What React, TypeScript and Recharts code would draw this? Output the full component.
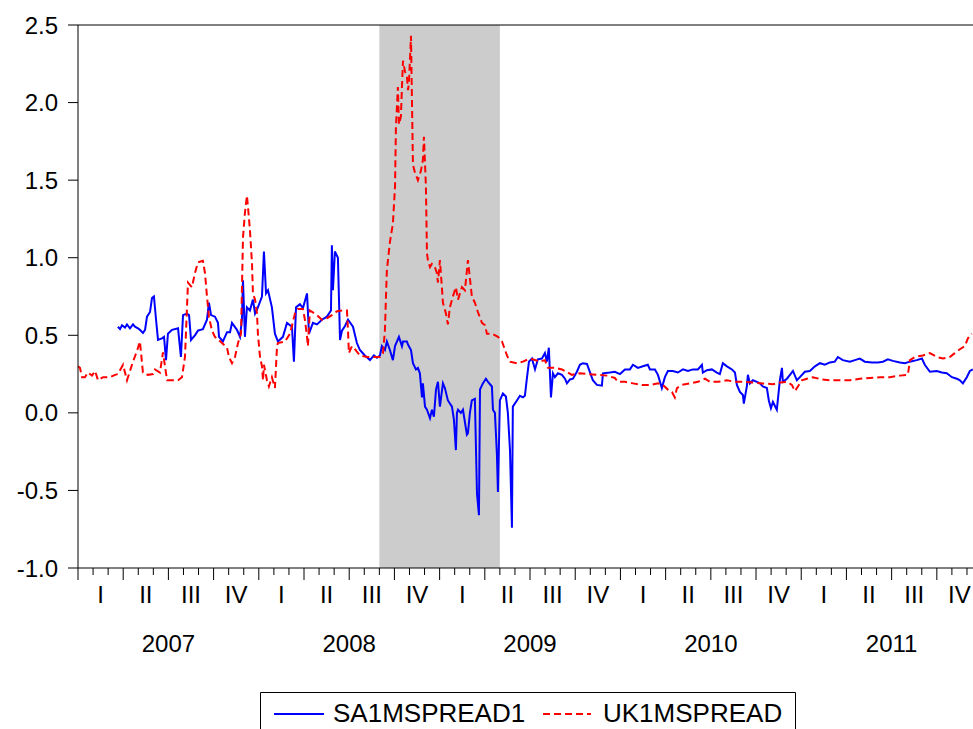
import React from "react";
import {
  LineChart,
  Line,
  XAxis,
  YAxis,
  ReferenceArea,
  ReferenceLine,
} from "recharts";

// x values are months since 1 Jan 2007, y values are spreads in % points

const years = ["2007", "2008", "2009", "2010", "2011"];
const quarters = ["I", "II", "III", "IV"];
const yTicks = [-1, -0.5, 0, 0.5, 1, 1.5, 2, 2.5];
const shaded = [20, 28]; // Sep 2008 .. Apr 2009
const lastMonth = 59.4;

const uk2007: [number, number][] = [
  [0, 0.3], [0.13, 0.29], [0.27, 0.23], [0.46, 0.23], [0.66, 0.26], [0.93, 0.24],
  [1.13, 0.27], [1.33, 0.21], [1.66, 0.23], [1.92, 0.23], [2.12, 0.23], [2.46, 0.245],
  [2.65, 0.25], [2.99, 0.31], [3.25, 0.21], [3.65, 0.33], [3.92, 0.4], [4.11, 0.46],
  [4.31, 0.26], [4.64, 0.245], [4.98, 0.25], [5.11, 0.28], [5.44, 0.26], [5.64, 0.39],
  [5.91, 0.21], [6.24, 0.21], [6.64, 0.21], [6.9, 0.23], [7.1, 0.36], [7.3, 0.84],
  [7.56, 0.81], [7.76, 0.9], [7.96, 0.97], [8.29, 0.98], [8.43, 0.9], [8.56, 0.75],
  [8.69, 0.62], [8.89, 0.53], [9.09, 0.49], [9.56, 0.45], [9.89, 0.42], [10.02, 0.36],
  [10.22, 0.32], [10.42, 0.36], [10.62, 0.45], [10.82, 0.51], [10.95, 1.13], [11.08, 1.29],
  [11.21, 1.4], [11.28, 1.33], [11.41, 1.18], [11.55, 0.96], [11.61, 0.77], [11.75, 0.73],
  [11.88, 0.64], [11.94, 0.51],
];
const uk2008: [number, number][] = [
  [12.08, 0.36], [12.21, 0.3], [12.28, 0.21], [12.34, 0.31], [12.54, 0.21], [12.67, 0.17],
  [12.87, 0.23], [13.07, 0.16], [13.21, 0.43], [13.27, 0.45], [13.74, 0.46], [14.07, 0.51],
  [14.4, 0.64], [14.6, 0.67], [14.93, 0.67], [15.06, 0.6], [15.2, 0.49], [15.26, 0.43],
  [15.39, 0.66], [15.86, 0.63], [16.19, 0.6], [16.52, 0.61], [16.85, 0.63], [17.19, 0.655],
  [17.58, 0.66], [17.85, 0.66], [17.92, 0.53], [17.98, 0.385], [18.18, 0.43], [18.38, 0.41],
  [18.71, 0.37], [19.18, 0.36], [19.58, 0.36], [20.04, 0.36], [20.24, 0.385], [20.37, 0.53],
  [20.44, 0.75], [20.5, 0.92], [20.7, 1.1], [20.9, 1.22], [21.04, 1.46], [21.1, 1.84],
  [21.23, 2.1], [21.3, 1.86], [21.43, 1.91], [21.5, 2.1], [21.57, 2.27], [21.7, 2.2],
  [21.83, 2.17], [21.9, 2.08], [21.96, 2.12], [22.1, 2.43], [22.16, 2.04], [22.23, 1.6],
  [22.36, 1.55], [22.56, 1.5], [22.76, 1.56], [22.89, 1.63], [22.96, 1.78], [23.09, 1.46],
  [23.16, 1.03], [23.22, 0.985], [23.36, 0.94], [23.49, 0.96], [23.69, 0.94], [23.82, 0.9],
  [23.89, 0.84],
];
const uk2009: [number, number][] = [
  [24.02, 0.985], [24.15, 0.81], [24.22, 0.71], [24.42, 0.64], [24.55, 0.57], [24.68, 0.68],
  [24.88, 0.75], [25.08, 0.81], [25.22, 0.73], [25.48, 0.81], [25.68, 0.79], [25.88, 0.985],
  [26.14, 0.75], [26.34, 0.71], [26.54, 0.65], [26.81, 0.58], [27.01, 0.565], [27.14, 0.51],
  [27.47, 0.51], [27.87, 0.49], [28.14, 0.46], [28.47, 0.37], [28.67, 0.33], [29.13, 0.32],
  [29.53, 0.33], [29.86, 0.345], [30.19, 0.345], [30.66, 0.33], [30.99, 0.34], [31.19, 0.29],
  [31.65, 0.29], [32.12, 0.28], [32.78, 0.245], [33.31, 0.255], [33.84, 0.25], [34.44, 0.245],
  [35.1, 0.24], [35.63, 0.225], [35.83, 0.2],
];
const uk2010: [number, number][] = [
  [36.3, 0.2], [36.83, 0.19], [37.43, 0.18], [37.96, 0.18], [38.49, 0.19], [38.82, 0.18],
  [39.15, 0.15], [39.42, 0.135], [39.61, 0.1], [39.75, 0.16], [40.08, 0.18], [40.61, 0.19],
  [41.14, 0.2], [41.61, 0.22], [41.94, 0.2], [42.47, 0.2], [43.07, 0.21], [43.6, 0.2],
  [44.13, 0.2], [44.79, 0.195], [45.45, 0.19], [46.12, 0.185], [46.58, 0.195], [47.05, 0.2],
  [47.38, 0.18], [47.58, 0.14], [47.78, 0.17],
];
const uk2011: [number, number][] = [
  [48.04, 0.21], [48.37, 0.22], [48.77, 0.23], [49.37, 0.215], [49.9, 0.21], [50.56, 0.21],
  [51.23, 0.21], [51.89, 0.22], [52.55, 0.225], [53.22, 0.23], [53.88, 0.23], [54.55, 0.24],
  [55.08, 0.245], [55.21, 0.34], [55.54, 0.36], [56.07, 0.37], [56.54, 0.385], [57.0, 0.36],
  [57.4, 0.35], [57.86, 0.36], [58.19, 0.385], [58.53, 0.41], [58.86, 0.43], [59.06, 0.48],
  [59.32, 0.51],
];

const sa2007: [number, number][] = [
  [2.65, 0.555], [2.79, 0.54], [2.92, 0.565], [3.12, 0.55], [3.25, 0.57], [3.45, 0.545],
  [3.65, 0.57], [3.78, 0.555], [3.98, 0.545], [4.11, 0.535], [4.31, 0.515], [4.45, 0.535],
  [4.58, 0.62], [4.78, 0.65], [4.91, 0.74], [5.04, 0.75], [5.18, 0.6], [5.31, 0.47],
  [5.57, 0.48], [5.71, 0.49], [5.84, 0.34], [5.97, 0.51], [6.24, 0.535], [6.64, 0.545],
  [6.83, 0.36], [6.97, 0.63], [7.23, 0.64], [7.37, 0.63], [7.5, 0.47], [7.76, 0.5],
  [7.96, 0.53], [8.29, 0.54], [8.56, 0.6], [8.69, 0.71], [8.83, 0.63], [9.09, 0.62],
  [9.29, 0.58], [9.36, 0.49], [9.62, 0.46], [9.89, 0.52], [10.09, 0.52], [10.22, 0.58],
  [10.55, 0.535], [10.75, 0.49], [10.88, 0.6], [10.95, 0.855], [11.08, 0.49], [11.21, 0.68],
  [11.41, 0.66], [11.61, 0.73], [11.75, 0.64], [11.94, 0.68],
];
const sa2008: [number, number][] = [
  [12.21, 0.75], [12.34, 1.04], [12.48, 0.77], [12.61, 0.79], [12.87, 0.68], [13.07, 0.51],
  [13.27, 0.46], [13.6, 0.49], [13.87, 0.58], [14.2, 0.555], [14.33, 0.33], [14.47, 0.68],
  [14.73, 0.7], [14.93, 0.675], [15.2, 0.77], [15.33, 0.51], [15.59, 0.58], [15.86, 0.57],
  [16.19, 0.6], [16.52, 0.62], [16.79, 0.66], [16.85, 1.08], [16.92, 0.79], [17.05, 1.04],
  [17.25, 1.0], [17.39, 0.47], [17.52, 0.53], [17.72, 0.56], [17.92, 0.6], [18.25, 0.555],
  [18.51, 0.45], [18.71, 0.405], [19.04, 0.37], [19.38, 0.34], [19.64, 0.37], [19.84, 0.355],
  [20.04, 0.37], [20.17, 0.43], [20.37, 0.405], [20.5, 0.46], [20.7, 0.405], [20.9, 0.34],
  [21.04, 0.43], [21.3, 0.49], [21.5, 0.43], [21.57, 0.46], [21.83, 0.46], [21.9, 0.44],
  [22.1, 0.405], [22.23, 0.32], [22.43, 0.28], [22.56, 0.29], [22.69, 0.255], [22.83, 0.1],
  [22.89, 0.19], [23.03, 0.04], [23.16, 0.02], [23.36, -0.035], [23.49, 0.02], [23.62, -0.025],
  [23.76, 0.15], [23.89, 0.2],
];
const sa2009: [number, number][] = [
  [24.02, 0.04], [24.22, 0.19], [24.35, 0.16], [24.55, 0.08], [24.82, 0.04], [24.95, -0.045],
  [25.08, -0.24], [25.15, 0.0], [25.22, 0.02], [25.41, 0.0], [25.55, 0.02], [25.81, -0.14],
  [25.88, -0.13], [26.01, 0.0], [26.14, 0.08], [26.34, 0.09], [26.48, -0.52], [26.61, -0.66],
  [26.68, 0.15], [26.87, 0.19], [27.07, 0.22], [27.21, 0.2], [27.47, 0.17], [27.54, 0.02],
  [27.67, 0.0], [27.8, -0.26], [27.87, -0.51], [28.0, 0.08], [28.2, 0.125], [28.4, 0.105],
  [28.53, 0.0], [28.67, -0.24], [28.8, -0.74], [28.86, 0.04], [29.13, 0.08], [29.33, 0.11],
  [29.53, 0.1], [29.66, 0.11], [29.79, 0.22], [29.93, 0.33], [30.13, 0.35], [30.33, 0.28],
  [30.52, 0.345], [30.79, 0.35], [30.99, 0.385], [31.12, 0.33], [31.25, 0.42], [31.39, 0.1],
  [31.52, 0.255], [31.65, 0.23], [31.85, 0.255], [32.12, 0.245], [32.32, 0.22], [32.45, 0.19],
  [32.65, 0.215], [32.85, 0.22], [33.11, 0.265], [33.31, 0.31], [33.51, 0.32], [33.78, 0.315],
  [33.91, 0.28], [34.17, 0.21], [34.44, 0.18], [34.77, 0.175], [34.84, 0.255], [35.3, 0.26],
  [35.63, 0.265], [35.97, 0.25],
];
const sa2010: [number, number][] = [
  [36.3, 0.28], [36.63, 0.28], [36.83, 0.31], [37.16, 0.29], [37.49, 0.3], [37.82, 0.31],
  [37.96, 0.28], [38.29, 0.28], [38.49, 0.245], [38.75, 0.16], [38.95, 0.23], [39.15, 0.27],
  [39.48, 0.27], [39.81, 0.26], [40.15, 0.28], [40.48, 0.27], [40.81, 0.28], [41.14, 0.28],
  [41.41, 0.31], [41.47, 0.26], [41.74, 0.275], [42.07, 0.28], [42.4, 0.26], [42.6, 0.25],
  [42.8, 0.32], [43.07, 0.3], [43.4, 0.28], [43.6, 0.26], [43.73, 0.18], [43.93, 0.135],
  [44.13, 0.115], [44.19, 0.06], [44.39, 0.17], [44.46, 0.245], [44.59, 0.19], [44.79, 0.21],
  [45.06, 0.2], [45.26, 0.19], [45.45, 0.17], [45.72, 0.16], [45.85, 0.08], [45.99, 0.03],
  [46.12, 0.07], [46.38, 0.02], [46.58, 0.21], [46.72, 0.29], [46.78, 0.2], [47.05, 0.22],
  [47.25, 0.245], [47.45, 0.27], [47.71, 0.21], [47.91, 0.23],
];
const sa2011: [number, number][] = [
  [48.24, 0.265], [48.57, 0.27], [48.91, 0.3], [49.24, 0.32], [49.57, 0.31], [49.9, 0.325],
  [50.23, 0.33], [50.43, 0.36], [50.76, 0.34], [51.23, 0.33], [51.56, 0.34], [51.89, 0.35],
  [52.22, 0.33], [52.69, 0.325], [53.09, 0.325], [53.42, 0.33], [53.75, 0.345], [54.08, 0.335],
  [54.55, 0.325], [54.88, 0.32], [55.21, 0.33], [55.67, 0.34], [56.01, 0.35], [56.2, 0.31],
  [56.54, 0.265], [57.0, 0.27], [57.33, 0.26], [57.66, 0.255], [58.0, 0.23], [58.33, 0.22],
  [58.53, 0.21], [58.73, 0.19], [58.99, 0.23], [59.19, 0.27], [59.39, 0.28],
];

const toRows = (pts: [number, number][]) => pts.map(([t, v]) => ({ t, v }));
const saData = toRows([...sa2007, ...sa2008, ...sa2009, ...sa2010, ...sa2011]);
const ukData = toRows([...uk2007, ...uk2008, ...uk2009, ...uk2010, ...uk2011]);

// monthly tick marks plus a label slot in the middle of each quarter
const monthTicks: number[] = [];
for (let m = 0; m < lastMonth; m++) monthTicks.push(m);
for (let q = 0; q < years.length * 4; q++) monthTicks.push(q * 3 + 1.5);
monthTicks.sort((a, b) => a - b);

const FONT = "'Liberation Sans', Arial, sans-serif";

function MonthTick(props: any) {
  const { x, y, payload } = props;
  const v: number = payload.value;
  if (Number.isInteger(v)) {
    const major = v % 3 === 0;
    return (
      <g>
        <line x1={x} x2={x} y1={y} y2={y + (major ? 12 : 7)} stroke="#000" strokeWidth={1} />
        {v % 12 === 6 && (
          <text x={x} y={y + 84} textAnchor="middle" fontSize={24} fontFamily={FONT} fill="#000">
            {years[(v - 6) / 12]}
          </text>
        )}
      </g>
    );
  }
  const q = Math.round((v - 1.5) / 3) % 4;
  return (
    <text x={x} y={y + 35} textAnchor="middle" fontSize={24} fontFamily={FONT} fill="#000">
      {quarters[q]}
    </text>
  );
}

function SpreadLegend() {
  return (
    <svg
      width={537}
      height={37}
      style={{ position: "absolute", left: 260, top: 692 }}
    >
      <path d="M0.5,37 V0.5 H535.5 V37" fill="none" stroke="#000" strokeWidth={1} />
      <line x1={14} x2={64} y1={22} y2={22} stroke="#0000ff" strokeWidth={2} />
      <text x={73} y={30} fontSize={26} fontFamily={FONT} fill="#000">
        SA1MSPREAD1
      </text>
      <line
        x1={283}
        x2={331}
        y1={22}
        y2={22}
        stroke="#ff0000"
        strokeWidth={2}
        strokeDasharray="7 4"
      />
      <text x={343} y={30} fontSize={26} fontFamily={FONT} fill="#000">
        UK1MSPREAD
      </text>
    </svg>
  );
}

export default function App() {
  return (
    <div
      style={{
        position: "absolute",
        left: 0,
        top: 0,
        width: 973,
        height: 729,
        overflow: "hidden",
        background: "#fff",
        fontFamily: FONT,
      }}
    >
      <style>{"body{margin:0;overflow:hidden}"}</style>
      <LineChart
        width={973}
        height={729}
        margin={{ top: 25, right: 0, left: 0, bottom: 0 }}
      >
        <ReferenceArea
          x1={shaded[0]}
          x2={shaded[1]}
          y1={-1}
          y2={2.5}
          fill="#cccccc"
          fillOpacity={1}
          stroke="none"
        />
        <XAxis
          type="number"
          dataKey="t"
          domain={[0, lastMonth]}
          allowDataOverflow
          ticks={monthTicks}
          interval={0}
          tick={<MonthTick />}
          tickLine={false}
          tickSize={0}
          tickMargin={0}
          height={161}
          axisLine={{ stroke: "#000", strokeWidth: 1 }}
        />
        <YAxis
          type="number"
          domain={[-1, 2.5]}
          ticks={yTicks}
          interval={0}
          width={78}
          tickSize={10}
          tickMargin={10}
          tickFormatter={(v: number) => v.toFixed(1)}
          tick={{ fontSize: 24, fill: "#000", fontFamily: FONT }}
          tickLine={{ stroke: "#000" }}
          axisLine={{ stroke: "#000", strokeWidth: 1 }}
        />
        <ReferenceLine y={2.5} stroke="#000" strokeWidth={1} />
        <Line
          data={saData}
          dataKey="v"
          name="SA1MSPREAD1"
          type="linear"
          stroke="#0000ff"
          strokeWidth={2}
          dot={false}
          isAnimationActive={false}
        />
        <Line
          data={ukData}
          dataKey="v"
          name="UK1MSPREAD"
          type="linear"
          stroke="#ff0000"
          strokeWidth={2}
          strokeDasharray="7 4"
          dot={false}
          isAnimationActive={false}
        />
      </LineChart>
      <SpreadLegend />
    </div>
  );
}
